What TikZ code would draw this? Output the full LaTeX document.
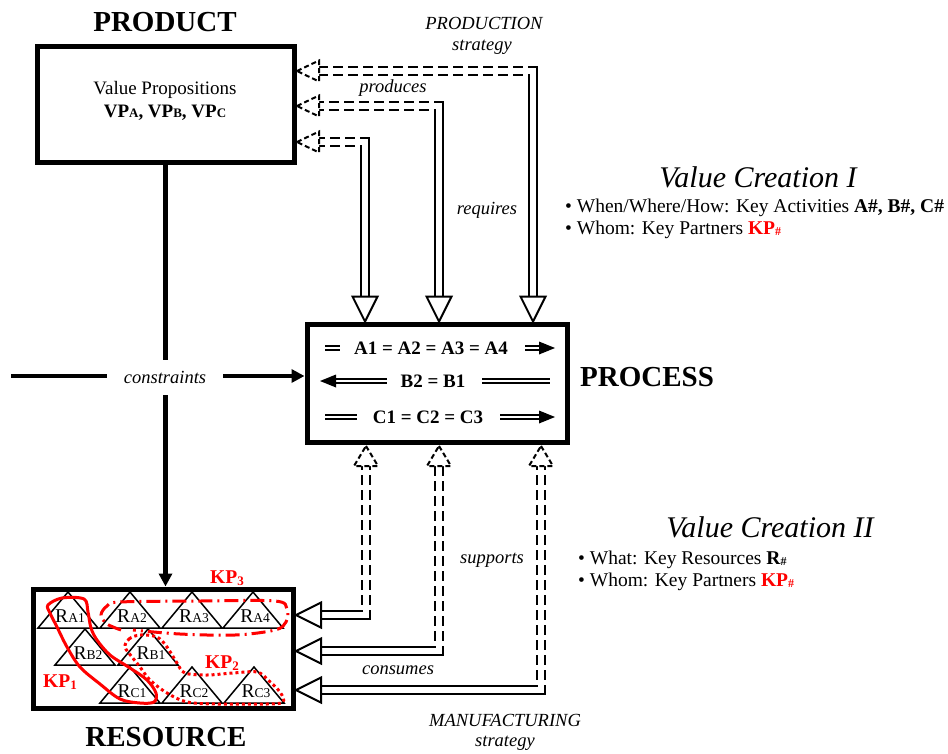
\documentclass[tikz,border=0pt]{standalone}
\usepackage{fontspec}
\setmainfont{Liberation Serif}
\usetikzlibrary{arrows.meta,calc}
\newcommand\fsz[1]{\fontsize{#1}{#1}\selectfont}
\newcommand\ahd[5]{\draw[#5,shift={(#1)},rotate=#2] (0,0) -- (-#3,#4) -- (-#3,-#4) -- cycle;}
\newcommand\rtri[3]{\draw[tri] (#1-30,#3) -- (#1,#2) -- (#1+30,#3) -- cycle;}
\begin{document}
\begin{tikzpicture}[x=1pt,y=-1pt,
  boxstyle/.style={draw,line width=5pt,inner sep=0pt},
  ttl/.style={font=\fsz{29}\bfseries},
  lbl/.style={font=\fsz{18.5}\itshape},
  bigdbl/.style={draw,line width=2pt,double distance=6pt,line join=miter},
  eraser/.style={draw=white,line width=13pt,dash pattern=on 5pt off 10pt},
  solidhead/.style={line width=2pt,fill=white,draw=black,line join=miter},
  dashhead/.style={line width=2pt,dash pattern=on 5pt off 3pt,fill=white},
  thindbl/.style={draw,line width=1.5pt,double distance=2.5pt},
  smallhead/.style={fill=black,draw=none},
  tri/.style={line width=1.5pt,line join=miter},
  kp/.style={text=red,font=\fsz{19.5}\bfseries,inner sep=0pt},
  rl/.style={font=\fsz{19.5},inner sep=0pt,anchor=base},
  conline/.style={line width=4.5pt,-{Triangle[length=13pt,width=13pt]}},
  bul/.style={font=\fsz{19.5},anchor=west,inner sep=0pt},
  vct/.style={font=\fsz{30}\itshape}]
\useasboundingbox (0,0) rectangle (948,753);

% main boxes
\node[boxstyle,minimum width=257pt,minimum height=116pt] (prod) at (165.5,104) {};
\node[boxstyle,minimum width=260pt,minimum height=118pt] (proc) at (437,383) {};
\node[boxstyle,minimum width=260pt,minimum height=119pt] (res) at (163,648.5) {};

% titles
\node[ttl] (tprod) at (165,22) {PRODUCT};
\node[ttl] (tproc) at (647,377) {PROCESS};
\node[ttl] (tres) at (166,737) {RESOURCE};

% product content
\node[font=\fsz{19}] (vp1) at (165,90) {Value Propositions};
\node[font=\fsz{19}\bfseries] (vp2) at (165,113) {VP{\fsz{13}A}, VP{\fsz{13}B}, VP{\fsz{13}C}};

% process content
\node[font=\fsz{19}\bfseries] (ra) at (431,348) {A1 = A2 = A3 = A4};
\node[font=\fsz{19}\bfseries] (rb) at (433,381) {B2 = B1};
\node[font=\fsz{19}\bfseries] (rc) at (428,417) {C1 = C2 = C3};
\coordinate (a1l) at (325,348); \coordinate (a1r) at (340,348);
\coordinate (a2s) at (525,348); \coordinate (a2b) at (540,348); \coordinate (a2t) at (555,348);
\draw[thindbl] (a1l) -- (a1r);
\draw[thindbl] (a2s) -- (a2b);
\ahd{a2t}{0}{16}{6.5}{smallhead}
\coordinate (b1t) at (320,381); \coordinate (b1b) at (335,381); \coordinate (b1e) at (387,381);
\coordinate (b2s) at (482,381); \coordinate (b2e) at (550,381);
\draw[thindbl] (b1b) -- (b1e);
\ahd{b1t}{180}{16}{6.5}{smallhead}
\draw[thindbl] (b2s) -- (b2e);
\coordinate (c1l) at (325,417); \coordinate (c1r) at (357,417);
\coordinate (c2s) at (500,417); \coordinate (c2b) at (540,417); \coordinate (c2t) at (555,417);
\draw[thindbl] (c1l) -- (c1r);
\draw[thindbl] (c2s) -- (c2b);
\ahd{c2t}{0}{16}{6.5}{smallhead}

% constraints
\coordinate (cin) at (11,376);
\draw[conline] (prod.south) -- (prod.south |- res.north);
\draw[conline] (cin) -- (cin -| proc.west);
\node[lbl,fill=white,minimum width=116pt,minimum height=35pt] (cons) at (165,377) {constraints};

% top connectors (process <- ... -> product)
\coordinate (tA) at (365,321.5); \coordinate (hA) at (365,296.5); \coordinate (kA) at (365,142);
\coordinate (qA) at (297,142); \coordinate (lA) at (319,142);
\coordinate (tB) at (439,321.5); \coordinate (hB) at (439,296.5); \coordinate (kB) at (439,106);
\coordinate (qB) at (297,106); \coordinate (lB) at (319,106);
\coordinate (tC) at (533,321.5); \coordinate (hC) at (533,296.5); \coordinate (kC) at (533,71);
\coordinate (qC) at (297,71); \coordinate (lC) at (319,71);
\draw[bigdbl] (hA) -- (kA) -- (lA);
\draw[bigdbl] (hB) -- (kB) -- (lB);
\draw[bigdbl] (hC) -- (kC) -- (lC);
\draw[eraser] ([xshift=-5.5pt]kA) -- ([xshift=2pt]lA);
\draw[eraser] ([xshift=-5.5pt]kB) -- ([xshift=2pt]lB);
\draw[eraser] ([xshift=-5.5pt]kC) -- ([xshift=2pt]lC);
\ahd{tA}{-90}{25}{12.5}{solidhead}
\ahd{tB}{-90}{25}{12.5}{solidhead}
\ahd{tC}{-90}{25}{12.5}{solidhead}
\ahd{qA}{180}{22}{10.5}{dashhead}
\ahd{qB}{180}{22}{10.5}{dashhead}
\ahd{qC}{180}{22}{10.5}{dashhead}

% bottom connectors (resource <- ... -> process)
\coordinate (uA) at (366,446); \coordinate (vA) at (366,466); \coordinate (dA) at (366,615);
\coordinate (sA) at (296,615); \coordinate (rA) at (321,615);
\coordinate (uB) at (439,446); \coordinate (vB) at (439,466); \coordinate (dB) at (439,651);
\coordinate (sB) at (296,651); \coordinate (rB) at (321,651);
\coordinate (uC) at (541,446); \coordinate (vC) at (541,466); \coordinate (dC) at (541,690);
\coordinate (sC) at (296,690); \coordinate (rC) at (321,690);
\draw[bigdbl] (rA) -- (dA) -- (vA);
\draw[bigdbl] (rB) -- (dB) -- (vB);
\draw[bigdbl] (rC) -- (dC) -- (vC);
\draw[eraser] ([yshift=5.5pt]dA) -- ([yshift=-2pt]vA);
\draw[eraser] ([yshift=5.5pt]dB) -- ([yshift=-2pt]vB);
\draw[eraser] ([yshift=5.5pt]dC) -- ([yshift=-2pt]vC);
\ahd{uA}{90}{20}{12}{dashhead}
\ahd{uB}{90}{20}{12}{dashhead}
\ahd{uC}{90}{20}{12}{dashhead}
\ahd{sA}{180}{25}{12.5}{solidhead}
\ahd{sB}{180}{25}{12.5}{solidhead}
\ahd{sC}{180}{25}{12.5}{solidhead}

% connector labels
\node[lbl] (l1) at (484,23) {PRODUCTION};
\node[lbl] (l2) at (482,47) {strategy};
\node[lbl] (l3) at (393,88) {produces};
\node[lbl] (l4) at (487,210) {requires};
\node[lbl] (l5) at (492,560) {supports};
\node[lbl] (l6) at (398,670) {consumes};
\node[lbl] (l7) at (505,720) {MANUFACTURING};
\node[lbl] (l8) at (505,743) {strategy};

% value creation texts
\node[vct] (vc1) at (758,177) {Value Creation I};
\node[bul] (b11) at (565,208) {\textbullet\ When/Where/How: Key Activities \textbf{A\#, B\#, C\#}};
\node[bul] (b12) at (565,230) {\textbullet\ Whom: Key Partners \textcolor{red}{\textbf{KP\raisebox{-1pt}{\fsz{12}\#}}}};
\node[vct] (vc2) at (770,527) {Value Creation II};
\node[bul] (b21) at (578,560) {\textbullet\ What: Key Resources \textbf{R\raisebox{-1pt}{\fsz{12}\#}}};
\node[bul] (b22) at (578,582) {\textbullet\ Whom: Key Partners \textcolor{red}{\textbf{KP\raisebox{-1pt}{\fsz{12}\#}}}};

% resource triangles
\rtri{68}{592}{628} \rtri{130}{592}{628} \rtri{192}{592}{628} \rtri{253}{592}{628}
\rtri{85}{629}{665} \rtri{148}{629}{665}
\rtri{130}{667}{703} \rtri{192}{667}{703} \rtri{254}{667}{703}
\node[rl] (ra1) at (70,622) {R{\fsz{13.5}A1}};
\node[rl] (ra2) at (132,622) {R{\fsz{13.5}A2}};
\node[rl] (ra3) at (194,622) {R{\fsz{13.5}A3}};
\node[rl] (ra4) at (255,622) {R{\fsz{13.5}A4}};
\node[rl] (rb2) at (88,659) {R{\fsz{13.5}B2}};
\node[rl] (rb1) at (151,659) {R{\fsz{13.5}B1}};
\node[rl] (rc1) at (132,697) {R{\fsz{13.5}C1}};
\node[rl] (rc2) at (194,697) {R{\fsz{13.5}C2}};
\node[rl] (rc3) at (256,697) {R{\fsz{13.5}C3}};

% key partner groupings
\draw[red,line width=3pt] plot[smooth cycle,tension=0.55] coordinates {(48,605) (62,598) (84,599) (88,612) (91,628) (97,640) (110,655) (130,668) (147,680) (156,693) (154,702) (140,703) (120,699) (100,684) (80,667) (67,647) (57,627) (50,613)};
\draw[red,line width=3pt,dash pattern=on 14pt off 5pt on 2pt off 5pt] plot[smooth,tension=0.55] coordinates {(121,630) (107,624) (101,615) (107,606) (120,602) (200,601) (275,601) (287,609) (286,622) (275,630) (235,635) (180,634) (133,630)};
\draw[red,line width=3pt,dash pattern=on 3pt off 3pt] plot[smooth cycle,tension=0.55] coordinates {(125,647) (129,639) (140,635) (157,637) (167,647) (177,663) (185,673) (207,675) (233,673) (257,672) (268,680) (280,692) (283,702) (267,704) (217,704) (187,702) (167,693) (150,680) (140,667) (132,657)};
\node[kp] (kp3) at (227,578) {KP\raisebox{-2pt}{\fsz{13}3}};
\node[kp] (kp2) at (222,663) {KP\raisebox{-2pt}{\fsz{13}2}};
\node[kp] (kp1) at (60,682) {KP\raisebox{-2pt}{\fsz{13}1}};
\end{tikzpicture}
\end{document}
